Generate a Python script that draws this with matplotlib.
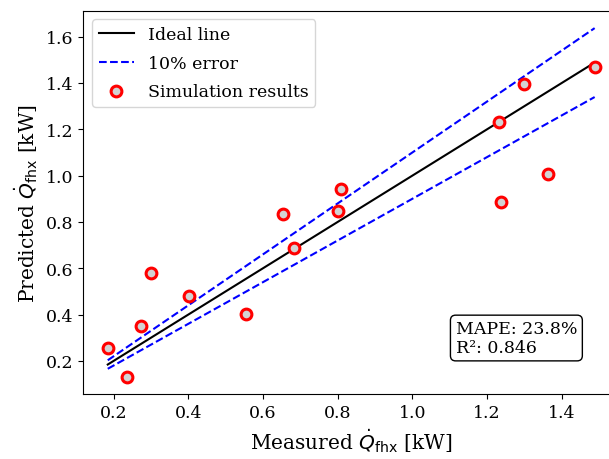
import matplotlib
matplotlib.use("Agg")
import matplotlib.pyplot as plt
import numpy as np

# measured vs predicted heat flow [kW]
measured = [0.184, 0.236, 0.274, 0.300, 0.402, 0.555, 0.654, 0.684, 0.801, 0.808,
            1.233, 1.237, 1.299, 1.364, 1.488]
predicted = [0.257, 0.132, 0.350, 0.581, 0.479, 0.403, 0.834, 0.689, 0.847, 0.944,
             1.233, 0.885, 1.396, 1.006, 1.470]
mape_text = "MAPE: 23.8%\nR²: 0.846"

plt.rcParams['font.family'] = 'DejaVu Serif'
plt.rcParams['font.size'] = 12.5

fig = plt.figure(figsize=(6.09, 4.6), dpi=100)
ax = fig.add_axes([83.4 / 609, 65 / 460, (619 - 83.4) / 609, (395 - 11.7) / 460])

x = np.array(measured)
line_x = np.array([x.min(), x.max()])
ax.plot(line_x, line_x, color='black', lw=1.5, label='Ideal line')
ax.plot(line_x, 1.1 * line_x, '--', color='blue', lw=1.5, label='10% error')
ax.plot(line_x, 0.9 * line_x, '--', color='blue', lw=1.5)
ax.scatter(measured, predicted, s=60, facecolor='lightgray', edgecolor='red',
           linewidth=2.2, zorder=3, label='Simulation results')

ax.set_xlabel(r'Measured $\dot{Q}_{\mathrm{fhx}}$ [kW]', fontsize=14.5)
ax.set_ylabel(r'Predicted $\dot{Q}_{\mathrm{fhx}}$ [kW]', fontsize=14.5)
ax.tick_params(labelsize=12.5)
ax.legend(loc='upper left', fontsize=12.5, labelspacing=0.65)
ax.text(0.695, 0.1, mape_text, transform=ax.transAxes, fontsize=12.5,
        va='bottom', ha='left', linespacing=1.1,
        bbox=dict(boxstyle='round', facecolor='white', edgecolor='black'))

fig.savefig('out.png', dpi=100)
